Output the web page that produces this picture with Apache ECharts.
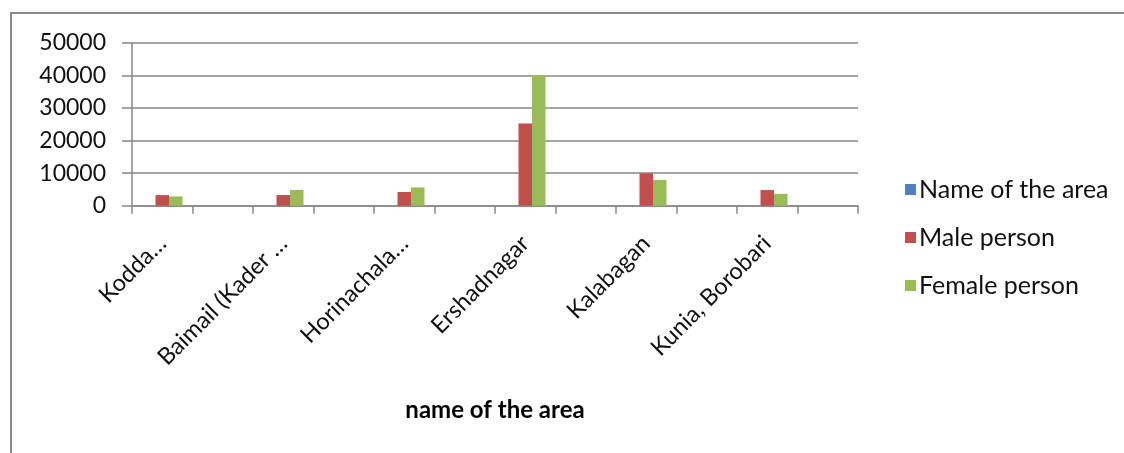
<!DOCTYPE html>
<html>
<head>
<meta charset="utf-8">
<script src="https://cdn.jsdelivr.net/npm/echarts@6/dist/echarts.min.js"></script>
<style>
html,body{margin:0;padding:0;background:#fff;}
#c{width:1124px;height:453px;}
</style>
</head>
<body>
<div id="c"></div>
<script>
const areas = ["Kodda…", "Baimail (Kader …", "Horinachala…", "Ershadnagar", "Kalabagan", "Kunia, Borobari"];
const nameOfArea = [0, 0, 0, 0, 0, 0];
const malePerson = [3250, 3300, 4200, 25200, 9950, 4800];
const femalePerson = [2850, 4850, 5600, 40000, 7900, 3650];
const yTicks = [0, 10000, 20000, 30000, 40000, 50000];

// Excel sheet had blank rows between areas: 12 category slots, data in even slots
function spread(arr, blank) {
  const out = [];
  arr.forEach(v => { out.push(v); out.push(blank); });
  return out;
}
const cats = spread(areas, "");
const FONT = "Lato";

const chart = echarts.init(document.getElementById('c'));
chart.setOption({
  animation: false,
  backgroundColor: '#fff',
  textStyle: { fontFamily: FONT },
  grid: { left: 132, right: 1124 - 858, top: 42.7, bottom: 453 - 205.7, containLabel: false },
  graphic: [
    { type: 'polyline', shape: { points: [[11, 453], [11, 13], [1124, 13]] }, style: { stroke: '#888', lineWidth: 2, fill: null } }
  ],
  legend: {
    orient: 'vertical',
    left: 900,
    top: 172,
    itemWidth: 11,
    itemHeight: 11,
    itemGap: 23,
    icon: 'rect',
    textStyle: { fontFamily: FONT, fontSize: 25, color: '#111', padding: [0, 0, 0, -2] },
    data: ['Name of the area', 'Male person', 'Female person']
  },
  xAxis: {
    type: 'category',
    data: cats,
    boundaryGap: true,
    name: 'name of the area',
    nameLocation: 'middle',
    nameGap: 193,
    nameTextStyle: { fontFamily: FONT, fontSize: 24, fontWeight: 'bold', color: '#000' },
    axisLine: { lineStyle: { color: '#888', width: 1.5 } },
    axisTick: { show: true, interval: 0, length: 8, lineStyle: { color: '#888', width: 1.5 } },
    axisLabel: { interval: 0, rotate: 45, fontSize: 23.5, color: '#111', margin: 34, fontFamily: FONT },
    splitLine: { show: false }
  },
  yAxis: {
    type: 'value',
    min: 0,
    max: 50000,
    interval: 10000,
    axisLine: { show: true, lineStyle: { color: '#888', width: 1.5 } },
    axisTick: { show: true, length: 10, lineStyle: { color: '#888', width: 1.5 } },
    axisLabel: { fontSize: 23, color: '#111', margin: 26, fontFamily: FONT,
      formatter: v => yTicks.includes(v) ? String(v) : '' },
    splitLine: { show: true, lineStyle: { color: '#888', width: 1.5 } }
  },
  series: [
    { name: 'Name of the area', type: 'bar', data: spread(nameOfArea, null), itemStyle: { color: '#4F81BD' }, barGap: '0%', barCategoryGap: '33%' },
    { name: 'Male person', type: 'bar', data: spread(malePerson, null), itemStyle: { color: '#C0504D' }, barGap: '0%', barCategoryGap: '33%' },
    { name: 'Female person', type: 'bar', data: spread(femalePerson, null), itemStyle: { color: '#9BBB59' }, barGap: '0%', barCategoryGap: '33%' }
  ]
});
</script>
</body>
</html>
